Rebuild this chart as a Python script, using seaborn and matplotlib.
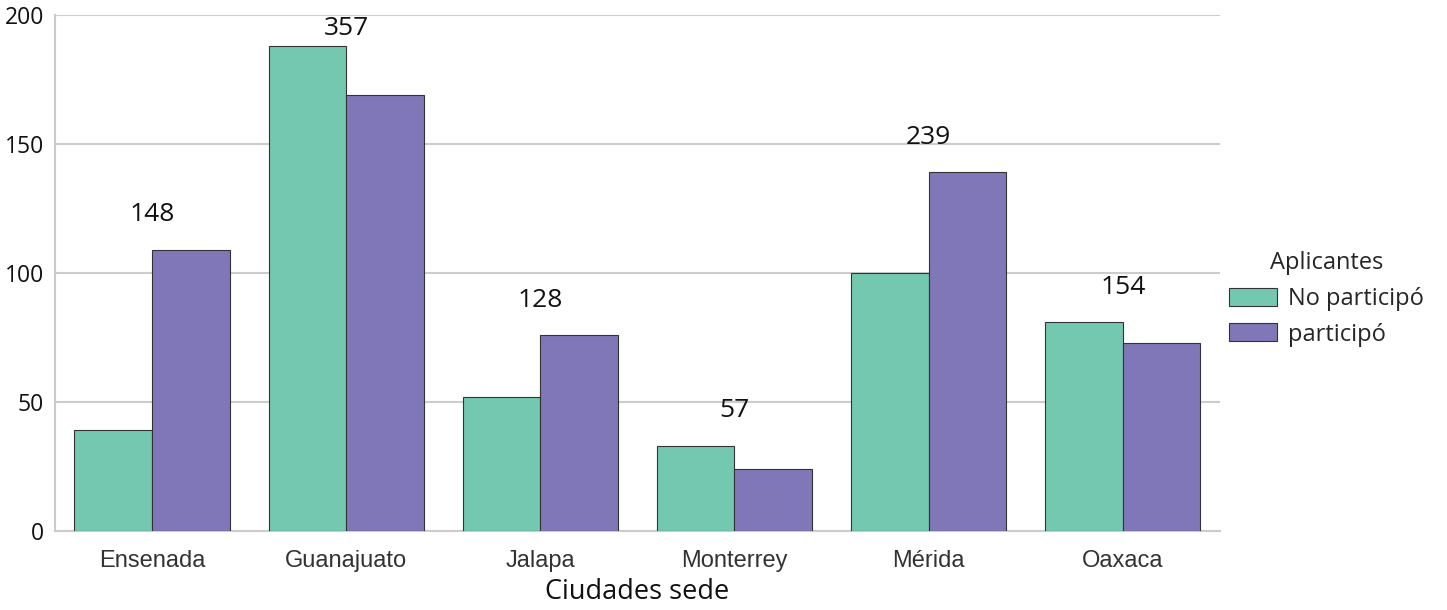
import pandas as pd
import matplotlib
matplotlib.use("Agg")
import matplotlib.pyplot as plt
import seaborn as sns

sns.set_style("white")

# Data
ciudades = ["Ensenada", "Guanajuato", "Jalapa", "Monterrey", "Mérida", "Oaxaca"]
no_participo = [39, 188, 52, 33, 100, 81]
participo = [109, 169, 76, 24, 139, 73]
grupos = ["No participó", "participó"]
colores = ["#74C8B0", "#7F77B8"]

df = pd.DataFrame({
    "Ciudad": ciudades * 2,
    "Aplicantes": [grupos[0]] * len(ciudades) + [grupos[1]] * len(ciudades),
    "Cantidad": no_participo + participo,
})

fig, ax = plt.subplots(figsize=(14.47, 6.1), dpi=100)
fig.subplots_adjust(left=0.038, right=0.843, top=0.975, bottom=0.13)

sns.barplot(data=df, x="Ciudad", y="Cantidad", hue="Aplicantes",
            order=ciudades, hue_order=grupos, palette=colores,
            edgecolor="#333333", linewidth=0.8, saturation=1,
            errorbar=None, ax=ax, zorder=3)

# Totals above each city
for i, (a, b) in enumerate(zip(no_participo, participo)):
    y = min(max(a, b) + 13.5, 195)
    ax.text(i, y, str(a + b), ha="center", va="center",
            fontsize=19, family="Open Sans", color="#111111")

ax.set_ylim(0, 200)
ax.set_xlim(-0.5, 5.5)
ax.set_yticks([0, 50, 100, 150, 200])
ax.yaxis.grid(True, color="#cccccc", linewidth=1.5, zorder=0)
ax.set_axisbelow(True)
for s in ["top", "right"]:
    ax.spines[s].set_visible(False)
for s in ["left", "bottom"]:
    ax.spines[s].set_color("#cccccc")
    ax.spines[s].set_linewidth(1.5)

ax.set_ylabel("")
ax.set_xlabel("Ciudades sede", fontsize=19.5, family="Open Sans",
              color="#111111", labelpad=4)
ax.tick_params(axis="x", length=0, pad=14)
ax.tick_params(axis="y", length=0, pad=8)
for t in ax.get_xticklabels():
    t.set_fontfamily("Liberation Sans")
    t.set_fontsize(17)
    t.set_color("#333333")
for t in ax.get_yticklabels():
    t.set_fontfamily("Open Sans")
    t.set_fontsize(16.5)
    t.set_color("#111111")

leg = ax.legend(title="Aplicantes", loc="center left", bbox_to_anchor=(0.99, 0.45),
                frameon=False, fontsize=17, title_fontsize=17,
                handlelength=2.0, handleheight=0.8, handletextpad=0.5)
for t in leg.get_texts():
    t.set_fontfamily("Open Sans")
leg.get_title().set_fontfamily("Open Sans")

plt.savefig("out.png", dpi=100)
